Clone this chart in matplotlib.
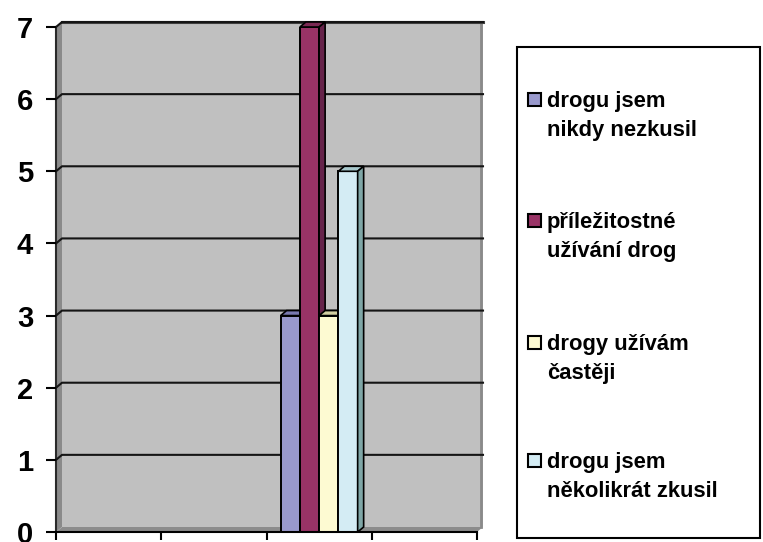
"""Excel-style 3D column chart: drug use survey."""
import matplotlib.pyplot as plt
from matplotlib.patches import Polygon, Rectangle
import numpy as np

plt.rcParams['font.family'] = ['Liberation Sans', 'DejaVu Sans']

DPI = 100
W, H = 763 / DPI, 542 / DPI

# data
categories = ['', '', '', '']
series_names = ['drogu jsem\nnikdy nezkusil',
                'příležitostné\nužívání drog',
                'drogy užívám\nčastěji',
                'drogu jsem\nněkolikrát zkusil']
never_tried = [0, 0, 3, 0]
occasional = [0, 0, 7, 0]
more_often = [0, 0, 3, 0]
tried_few = [0, 0, 5, 0]
series = [never_tried, occasional, more_often, tried_few]
yticks = [0, 1, 2, 3, 4, 5, 6, 7]

front = ['#9999CC', '#993366', '#FDFAD2', '#D4ECF4']
top = ['#7A7AB0', '#7A2852', '#D2CFA2', '#A8C8CC']
side = ['#6E6E9E', '#66234A', '#C8C596', '#7FA6A6']

fig = plt.figure(figsize=(W, H), dpi=DPI)
fig.patch.set_facecolor('white')
ax = fig.add_axes([56 / 763, 10 / 542, 421 / 763, 505 / 542])
ax.set_xlim(0, len(categories))
ax.set_ylim(0, 7)
ax.set_facecolor('none')
for s in ax.spines.values():
    s.set_visible(False)

# depth of the 3D effect in data units
dx = 6 / 105.25
dy = 5 / 72.14
ymax = 7
nx = len(categories)

# back wall, side wall, floor
ax.add_patch(Rectangle((dx, dy), nx, ymax, facecolor='#C0C0C0', edgecolor='none',
                       zorder=0, clip_on=False))
ax.add_patch(Polygon([(0, 0), (dx, dy), (dx, ymax + dy), (0, ymax)],
                     facecolor='#8A8A8A', edgecolor='none', zorder=0.5, clip_on=False))
ax.add_patch(Polygon([(0, 0), (nx, 0), (nx + dx, dy), (dx, dy)],
                     facecolor='#8C8C8C', edgecolor='none', zorder=0.5, clip_on=False))
ax.plot([nx + dx - 0.015, nx + dx - 0.015], [dy, ymax + dy], color='#8A8A8A',
        lw=2, zorder=0.6, clip_on=False)
ax.plot([dx, nx + dx], [ymax + dy, ymax + dy], color='#404040', lw=2.2,
        zorder=0.6, clip_on=False)
ax.plot([0, 0], [0, ymax], color='#2A2A2A', lw=1.5, zorder=0.7, clip_on=False)

# gridlines on side wall and back wall
for v in yticks[1:]:
    ax.plot([0, dx, nx + dx], [v, v + dy, v + dy], color='#151515', lw=1.5,
            zorder=1, clip_on=False)

# bars
bw = 0.183
x = np.arange(nx)
for i, vals in enumerate(series):
    pos = x + 0.5 + (i - 1.5) * bw
    mask = np.array(vals) > 0
    bars = ax.bar(pos[mask], np.array(vals)[mask], width=bw, color=front[i],
                  edgecolor='black', linewidth=1.4, zorder=3 + i)
    for b in bars:
        x0, w, h = b.get_x(), b.get_width(), b.get_height()
        ax.add_patch(Polygon([(x0, h), (x0 + dx, h + dy), (x0 + w + dx, h + dy), (x0 + w, h)],
                             facecolor=top[i], edgecolor='black', lw=1.2,
                             zorder=3 + i, clip_on=False))
        ax.add_patch(Polygon([(x0 + w, 0), (x0 + w + dx, dy), (x0 + w + dx, h + dy), (x0 + w, h)],
                             facecolor=side[i], edgecolor='black', lw=1.2,
                             zorder=3 + i, clip_on=False))

ax.axhline(0, color='black', lw=1.5, zorder=10, clip_on=False)

ax.set_yticks(yticks)
ax.set_yticklabels([str(v) for v in yticks], fontsize=21, fontweight='bold')
ax.set_xticks(np.arange(nx + 1))
ax.set_xticklabels([''] * (nx + 1))
ax.tick_params(axis='y', direction='out', length=7.5, width=1.5, pad=9)
ax.tick_params(axis='x', direction='out', length=6, width=1.5)

# legend box
fig.patches.append(Rectangle((517 / 763, 1 - 538 / 542), 243 / 763, 491 / 542,
                             transform=fig.transFigure, facecolor='white',
                             edgecolor='black', lw=1.5))
first_baselines = [107, 228, 350, 468]
for i, name in enumerate(series_names):
    yb = first_baselines[i]
    fig.patches.append(Rectangle((528 / 763, 1 - (yb - 1) / 542), 13 / 763, 13 / 542,
                                 transform=fig.transFigure, facecolor=front[i],
                                 edgecolor='black', lw=1.5))
    for j, line in enumerate(name.split('\n')):
        fig.text(547 / 763, 1 - (yb + 29 * j) / 542, line, fontsize=15.8,
                 fontweight='bold', va='baseline', ha='left')

fig.savefig('out.png', dpi=DPI, facecolor='white')
plt.close()
